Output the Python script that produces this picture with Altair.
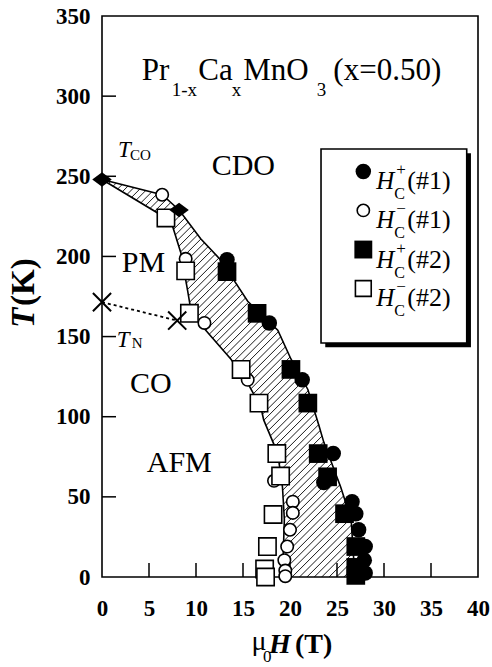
import altair as alt
import numpy as np
import pandas as pd

# ---------------------------------------------------------------
# Pr(1-x)Ca(x)MnO3, x = 0.50 : critical fields vs temperature
# ---------------------------------------------------------------
H_MAX, T_MAX = 40, 350
PLOT_W, PLOT_H = 376, 561
SERIF = "Liberation Serif"

x_ticks = [0, 5, 10, 15, 20, 25, 30, 35, 40]
y_ticks = [0, 50, 100, 150, 200, 250, 300, 350]

# sample #1 (circles) and sample #2 (squares); "+" = up-sweep, "-" = down-sweep
hc_up_1_H = [13.3, 17.8, 21.3, 24.6, 23.6, 26.6, 27.0, 27.3, 28.0, 27.9, 28.0]
hc_up_1_T = [198, 158.5, 123, 77, 59, 47, 39.5, 29.5, 19, 10.5, 2.5]
hc_dn_1_H = [6.4, 8.9, 10.9, 15.5, 18.3, 20.3, 20.3, 20.0, 19.7, 19.4, 19.5, 19.5]
hc_dn_1_T = [238.5, 198.5, 158.5, 123, 60, 47, 40, 29.5, 19, 10.5, 4, 0.5]
hc_up_2_H = [13.3, 16.5, 20.1, 21.9, 23.0, 24.0, 25.8, 27.0, 27.0, 27.0]
hc_up_2_T = [190.5, 164.5, 129.5, 108.5, 77, 62.5, 39.5, 19, 6, 1]
hc_dn_2_H = [6.8, 8.9, 9.3, 14.8, 16.7, 18.6, 19.0, 18.2, 17.6, 17.3, 17.4]
hc_dn_2_T = [224, 191, 164.5, 129.5, 108.5, 77, 63, 39, 19, 5, 0]

# charge-order transition (diamonds) and Neel points (crosses)
tco_H = [0, 8.2]
tco_T = [248, 229]
tn_H = [0, 8.0]
tn_T = [171.5, 160]

# boundaries of the hysteresis region
upper_H = [0, 6.4, 8.2, 10.5, 12.6, 15.5, 18.7, 20.1, 21.9, 23.1, 23.6, 25.4, 26.5, 26.9]
upper_T = [248, 238.5, 229, 211, 198, 172, 154, 136, 117, 94, 84, 56, 36, 0]
lower_H = [0, 6.8, 7.5, 8.4, 9.1, 9.5, 10.5, 13.7, 15.5, 16.9, 17.2, 18.7, 19.2, 19.4, 19.2]
lower_T = [248, 224, 219, 202, 179, 165, 157.5, 136, 121, 106, 98, 77, 56, 36, 0]

# legend rows
leg_H = 27.8
leg_T = [253, 228.7, 204.3, 180]
leg_sign = ["+", "\u2212", "+", "\u2212"]
leg_tag = ["(#1)", "(#1)", "(#2)", "(#2)"]
leg_box_H = [23.3, 38.8]
leg_box_T = [146, 267]

xs = alt.Scale(domain=[0, H_MAX], nice=False, zero=False)
ys = alt.Scale(domain=[0, T_MAX], nice=False, zero=False)

x_axis = alt.Axis(values=x_ticks, ticks=False, domain=False, grid=False, title=None,
                  labelFont=SERIF, labelFontSize=23, labelFontWeight="bold",
                  labelColor="black", labelPadding=20, labelFlush=False,
                  labelOverlap=False, labelBound=False)
y_axis = alt.Axis(values=y_ticks, ticks=False, domain=False, grid=False, title=None,
                  labelFont=SERIF, labelFontSize=23, labelFontWeight="bold",
                  labelColor="black", labelPadding=12, labelFlush=False,
                  labelOverlap=False, labelBound=False)


def X(field="H"):
    return alt.X(f"{field}:Q", scale=xs, axis=x_axis)


def Y(field="T"):
    return alt.Y(f"{field}:Q", scale=ys, axis=y_axis)


# ---- hatching of the region between the two boundaries ----
sx, sy = PLOT_W / H_MAX, PLOT_H / T_MAX
poly = [(h * sx, (T_MAX - t) * sy) for h, t in zip(upper_H, upper_T)]
poly += [(h * sx, (T_MAX - t) * sy) for h, t in zip(lower_H[::-1], lower_T[::-1])][:-1]
sums = [px + py for px, py in poly]
hatch = []
for c in np.arange(min(sums) + 3.0, max(sums), 7.4):
    xs_hit = []
    n = len(poly)
    for i in range(n):
        (x1, y1), (x2, y2) = poly[i], poly[(i + 1) % n]
        f1, f2 = x1 + y1 - c, x2 + y2 - c
        if (f1 <= 0 < f2) or (f2 <= 0 < f1):
            u = f1 / (f1 - f2)
            xs_hit.append(x1 + u * (x2 - x1))
    xs_hit.sort()
    for a, b in zip(xs_hit[0::2], xs_hit[1::2]):
        hatch.append({"H": a / sx, "T": T_MAX - (c - a) / sy,
                      "H2": b / sx, "T2": T_MAX - (c - b) / sy})
hatch_df = pd.DataFrame(hatch)

hatch_layer = alt.Chart(hatch_df).mark_rule(color="black", strokeWidth=0.9).encode(
    x=X("H"), y=Y("T"), x2="H2:Q", y2="T2:Q")

upper_df = pd.DataFrame({"H": upper_H, "T": upper_T, "o": range(len(upper_H))})
lower_df = pd.DataFrame({"H": lower_H, "T": lower_T, "o": range(len(lower_H))})
bound = alt.layer(
    alt.Chart(upper_df).mark_line(color="black", strokeWidth=1.6).encode(
        x=X(), y=Y(), order="o:Q"),
    alt.Chart(lower_df).mark_line(color="black", strokeWidth=1.6).encode(
        x=X(), y=Y(), order="o:Q"),
)

tn_df = pd.DataFrame({"H": tn_H, "T": tn_T})
tn_line = alt.Chart(tn_df).mark_line(color="black", strokeWidth=1.8,
                                      strokeDash=[3, 3]).encode(x=X(), y=Y())

# ---- inward axis ticks ----
xt_df = pd.DataFrame({"H": x_ticks[1:-1]})
yt_df = pd.DataFrame({"T": y_ticks[1:-1]})
xticks = alt.Chart(xt_df).mark_rule(color="black", strokeWidth=1.5).encode(
    x=X("H"), y=alt.value(PLOT_H), y2=alt.value(PLOT_H - 14))
yticks = alt.Chart(yt_df).mark_rule(color="black", strokeWidth=1.5).encode(
    y=Y("T"), x=alt.value(0), x2=alt.value(14))


# ---- markers ----
def markers(h, t, shape, filled, size):
    df = pd.DataFrame({"H": h, "T": t})
    if filled:
        m = alt.Chart(df).mark_point(shape=shape, filled=True, fill="black",
                                     strokeWidth=0, size=size, opacity=1)
    else:
        m = alt.Chart(df).mark_point(shape=shape, filled=True, fill="white",
                                     stroke="black", strokeWidth=1.6, size=size,
                                     opacity=1)
    return m.encode(x=X(), y=Y())


DIAMOND = "M-1,0L0,-0.75L1,0L0,0.75Z"
CROSS = "M-1,-1L1,1M-1,1L1,-1"

pts = alt.layer(
    markers(hc_dn_1_H, hc_dn_1_T, "circle", False, 155),
    markers(hc_up_1_H, hc_up_1_T, "circle", True, 240),
    markers(hc_dn_2_H, hc_dn_2_T, "square", False, 300),
    markers(hc_up_2_H, hc_up_2_T, "square", True, 350),
    markers(tco_H, tco_T, DIAMOND, True, 380),
    alt.Chart(tn_df).mark_point(shape=CROSS, filled=False, stroke="black",
                                strokeWidth=2, size=330, opacity=1).encode(x=X(), y=Y()),
)

# ---- legend ----
box = pd.DataFrame({"H": [leg_box_H[0]], "H2": [leg_box_H[1]],
                    "T": [leg_box_T[0]], "T2": [leg_box_T[1]]})
shadow = pd.DataFrame({"H": [leg_box_H[0] + 0.45], "H2": [leg_box_H[1] + 0.45],
                       "T": [leg_box_T[0] - 2.6], "T2": [leg_box_T[1] - 2.6]})
legend_box = alt.layer(
    alt.Chart(shadow).mark_rect(color="black").encode(x=X(), x2="H2:Q", y=Y(), y2="T2:Q"),
    alt.Chart(box).mark_rect(fill="white", stroke="black", strokeWidth=1.6).encode(
        x=X(), x2="H2:Q", y=Y(), y2="T2:Q"),
)
legend_syms = alt.layer(
    markers([leg_H], [leg_T[0]], "circle", True, 240),
    markers([leg_H], [leg_T[1]], "circle", False, 150),
    markers([leg_H], [leg_T[2]], "square", True, 320),
    markers([leg_H], [leg_T[3]], "square", False, 250),
)
leg_df = pd.DataFrame({"H": [leg_H] * 4, "T": leg_T, "sign": leg_sign, "tag": leg_tag})
leg_text = alt.layer(
    alt.Chart(leg_df).mark_text(text="H", font=SERIF, fontSize=25, fontStyle="italic",
                                align="left", dx=13, dy=10, color="black").encode(x=X(), y=Y()),
    alt.Chart(leg_df).mark_text(text="C", font=SERIF, fontSize=16, align="left",
                                dx=31, dy=23, color="black").encode(x=X(), y=Y()),
    alt.Chart(leg_df).mark_text(font=SERIF, fontSize=17, align="left",
                                dx=33, dy=-1, color="black").encode(x=X(), y=Y(), text="sign:N"),
    alt.Chart(leg_df).mark_text(font=SERIF, fontSize=26, align="left",
                                dx=44, dy=10, color="black").encode(x=X(), y=Y(), text="tag:N"),
)

# ---- in-plot annotations (left-aligned, alphabetic baseline) ----
lab_text = ["Pr", "1-x", "Ca", "x", "MnO", "3", "(x=0.50)",
            "CDO", "PM", "CO", "AFM", "CO", "N"]
lab_H = [4.22, 7.41, 10.24, 13.80, 15.03, 22.84, 24.61,
         11.67, 2.10, 2.98, 4.76, 2.98, 3.16]
lab_T = [310.1, 299.8, 310.1, 299.8, 310.1, 299.8, 310.1,
         250.8, 190.5, 114.8, 65.7, 259.9, 142.6]
lab_size = [31, 19, 31, 19, 31, 19, 31, 30, 30, 30, 30, 15, 15]
ital_text = ["T", "T"]
ital_H = [1.70, 1.56]
ital_T = [262.0, 143.7]

lab_df = pd.DataFrame({"H": lab_H, "T": lab_T, "s": lab_size, "txt": lab_text})
ital_df = pd.DataFrame({"H": ital_H, "T": ital_T, "txt": ital_text})
labels = alt.layer(
    alt.Chart(lab_df).mark_text(font=SERIF, align="left", baseline="alphabetic",
                                color="black").encode(
        x=X(), y=Y(), text="txt:N", size=alt.Size("s:Q", scale=None)),
    alt.Chart(ital_df).mark_text(font=SERIF, fontStyle="italic", fontSize=23, align="left",
                                 baseline="alphabetic", color="black").encode(
        x=X(), y=Y(), text="txt:N"),
)

# ---- axis titles: T(K) and mu0 H(T) ----
one = pd.DataFrame({"k": [0]})


def title_piece(txt, px, py, size, weight="normal", style="normal", angle=0):
    return alt.Chart(one).mark_text(text=txt, font=SERIF, fontSize=size, fontWeight=weight,
                                    fontStyle=style, angle=angle, align="left",
                                    baseline="alphabetic", color="black").encode(
        x=alt.value(px), y=alt.value(py))


titles = alt.layer(
    title_piece("T", -68.5, 312, 33, "bold", "italic", 270),
    title_piece("(K)", -68.5, 290, 33, "bold", "normal", 270),
    title_piece("\u03bc", 149.5, 634, 28),
    title_piece("0", 161, 646, 17),
    title_piece("H", 167, 637, 28, "bold", "italic"),
    title_piece("(T)", 193, 637, 28, "bold"),
)

chart = alt.layer(
    hatch_layer, bound, tn_line, xticks, yticks, pts,
    legend_box, legend_syms, leg_text, labels, titles,
).properties(
    width=PLOT_W, height=PLOT_H,
    autosize=alt.AutoSizeParams(type="none"),
    padding={"left": 102, "top": 16, "right": 14, "bottom": 90},
    background="white",
).configure_view(
    stroke="black", strokeWidth=1.6
).configure_axis(
    labelFont=SERIF, labelFontWeight="bold", labelFontSize=23, labelColor="black"
).configure_text(font=SERIF)

chart.save("out.html", embed_options={"renderer": "svg", "actions": False})
